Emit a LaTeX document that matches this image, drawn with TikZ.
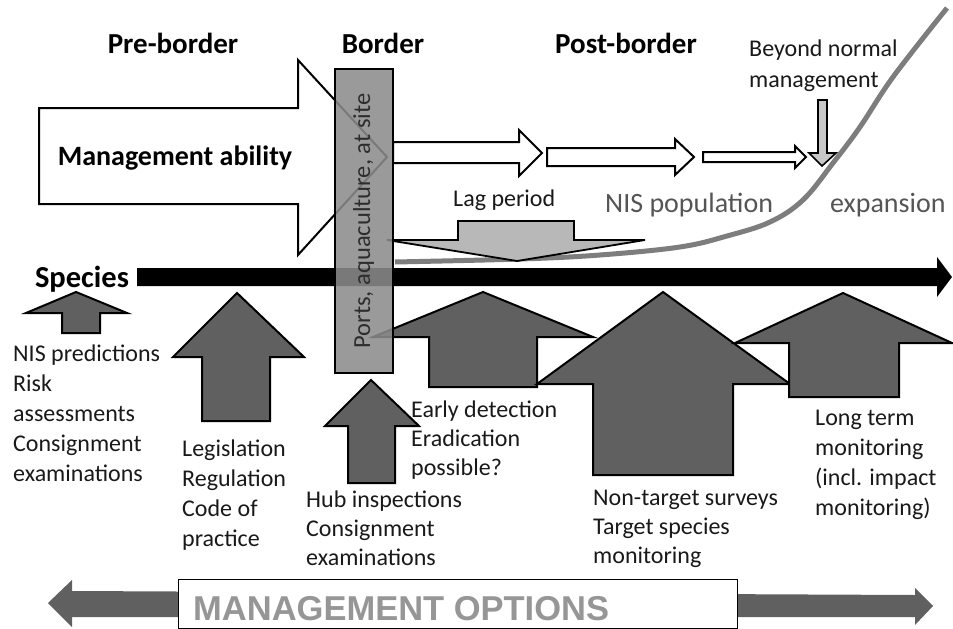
\documentclass[tikz,border=0pt]{standalone}
\usepackage{fontspec}
\setmainfont{Carlito}
\newfontfamily\optfont{Liberation Sans Bold}
\definecolor{upgray}{RGB}{96,96,96}
\definecolor{laggray}{RGB}{184,184,184}
\definecolor{downgray}{RGB}{200,200,200}
\definecolor{curvegray}{RGB}{125,125,125}
\definecolor{boxgray}{RGB}{139,139,139}
\definecolor{mgray}{RGB}{96,96,96}
\definecolor{nisgray}{RGB}{85,85,85}
\definecolor{optgray}{RGB}{150,150,150}
\definecolor{txtblack}{RGB}{25,25,25}
\tikzset{
  outl/.style={draw=black, line width=2pt, line join=miter},
  whitearrow/.style={outl, fill=white},
  uparrowshape/.style={outl, fill=upgray},
  heading/.style={font=\fontsize{29}{34}\selectfont\bfseries, anchor=base, inner sep=0},
  bodytxt/.style={font=\fontsize{24}{30}\selectfont, anchor=base west, align=left, inner sep=0, text=txtblack},
  bigtxt/.style={font=\fontsize{28}{32}\selectfont, anchor=base west, inner sep=0, text=nisgray},
}
\begin{document}
\begin{tikzpicture}[x=1pt,y=-1pt]
\useasboundingbox (0,0) rectangle (953,629);

% management ability arrow
\draw[whitearrow] (39,108) -- (298,108) -- (298,60) -- (387,157) -- (298,255) -- (298,204) -- (39,204) -- cycle;

% species axis
\fill[black] (137,268) -- (937,268) -- (937,257) -- (952,277) -- (937,297) -- (937,286) -- (137,286) -- cycle;

% NIS population curve
\draw[curvegray, line width=5pt] plot[smooth, tension=0.6] coordinates {(395,262) (520,259) (600,255) (680,247) (727,236) (770,222) (803,200) (833,163) (860,127) (893,77) (947,8)};

% lag period arrow
\draw[outl, line width=1.8pt, fill=laggray] (458,221) -- (574,221) -- (574,240) -- (645,240) -- (517,261) -- (387,240) -- (458,240) -- cycle;

% post-border arrows
\draw[whitearrow] (393,142) -- (519,142) -- (519,130) -- (542,153) -- (519,176) -- (519,163) -- (393,163) -- cycle;
\draw[whitearrow] (547,148) -- (675,148) -- (675,139) -- (694,157) -- (675,175) -- (675,166) -- (547,166) -- cycle;
\draw[whitearrow] (703,152) -- (795,152) -- (795,146) -- (806,157) -- (795,168) -- (795,162) -- (703,162) -- cycle;

% beyond normal management down arrow
\draw[outl, line width=1.6pt, fill=downgray] (818,100) -- (827,100) -- (827,153) -- (836,153) -- (822,166) -- (809,153) -- (818,153) -- cycle;

% up arrows
\draw[uparrowshape] (76,292) -- (127,313) -- (100,313) -- (100,333) -- (62,333) -- (62,313) -- (26,313) -- cycle;
\draw[uparrowshape] (237,293) -- (304,357) -- (270,357) -- (270,421) -- (202,421) -- (202,357) -- (173,357) -- cycle;
\draw[uparrowshape] (483,292) -- (593,337) -- (537,337) -- (537,387) -- (429,387) -- (429,337) -- (373,337) -- cycle;
\draw[uparrowshape] (663,292) -- (790,384) -- (733,384) -- (733,475) -- (593,475) -- (593,384) -- (537,384) -- cycle;
\draw[uparrowshape] (843,293) -- (952,343) -- (899,343) -- (899,397) -- (789,397) -- (789,343) -- (735,343) -- cycle;
\draw[uparrowshape] (371,380) -- (419,426) -- (395,426) -- (395,483) -- (348,483) -- (348,426) -- (325,426) -- cycle;

% border box
\node (border) [draw=black, line width=2pt, fill=boxgray, fill opacity=0.87, text opacity=1,
  minimum width=304pt, minimum height=58pt, inner sep=0, rotate=90,
  font=\fontsize{24.5}{28}\selectfont, text={rgb,255:red,45;green,45;blue,45}] at (363.5,221) {Ports, aquaculture, at site};

% management options
\fill[mgray] (48,603) -- (72,580) -- (72,591) -- (915,595) -- (915,588) -- (933,606) -- (915,625) -- (915,617) -- (72,617) -- (72,627) -- cycle;
\node (optbox) [draw=black, line width=0.8pt, fill=white, minimum width=559pt, minimum height=49pt, inner sep=0] at (457.5,603.5) {};
\node (opttxt) [font=\optfont\fontsize{34.5}{38}\selectfont, text=optgray, anchor=base west, inner sep=0] at (193,620) {MANAGEMENT OPTIONS};

% headings
\node (pre) [heading] at (173,53) {Pre-border};
\node (bord) [heading] at (383,53) {Border};
\node (post) [heading] at (626,53) {Post-border};
\node (mab) [font=\fontsize{28}{32}\selectfont\bfseries, anchor=base, inner sep=0] at (175,165) {Management ability};
\node (species) [font=\fontsize{30.5}{34}\selectfont\bfseries, anchor=base, inner sep=0] at (82,287) {Species};

% upper labels
\node (lag) [bodytxt] at (453,206) {Lag period};
\node (nispop) [bigtxt] at (605,212) {NIS population};
\node (exp) [bigtxt] at (830,212) {expansion};
\node (beyond) [bodytxt, font=\fontsize{24}{31}\selectfont] at (749,87) {Beyond normal\\management};

% lower labels (anchored at the baseline of the last line)
\node (l1) [bodytxt] at (13,481) {NIS predictions\\Risk\\assessments\\Consignment\\examinations};
\node (l2) [bodytxt] at (182,546) {Legislation\\Regulation\\Code of\\practice};
\node (l3) [bodytxt, font=\fontsize{24}{29}\selectfont] at (306,565) {Hub inspections\\Consignment\\examinations};
\node (l4) [bodytxt, font=\fontsize{24}{29}\selectfont] at (411,475) {Early detection\\Eradication\\possible?};
\node (l5) [bodytxt, font=\fontsize{24}{29}\selectfont] at (593,563) {Non-target surveys\\Target species\\monitoring};
\node (l6) [bodytxt] at (815,515) {Long term\\monitoring\\(incl. impact\\monitoring)};
\end{tikzpicture}
\end{document}
